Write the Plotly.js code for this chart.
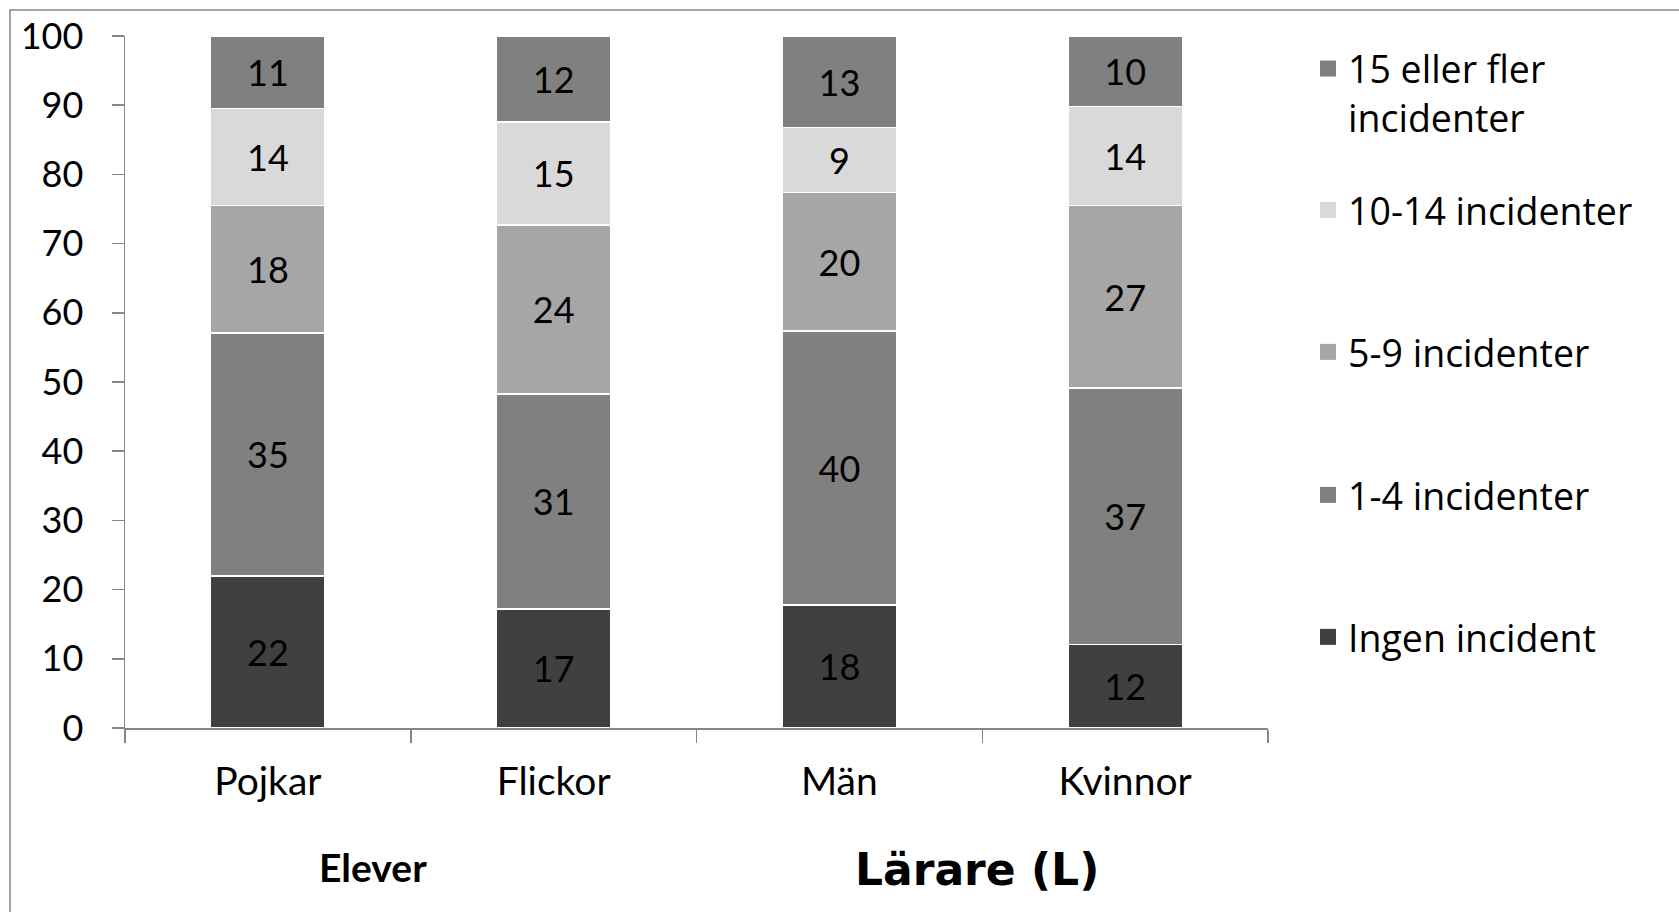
<!DOCTYPE html>
<html>
<head>
<meta charset="utf-8">
<script src="https://cdn.plot.ly/plotly-3.0.1.min.js"></script>
<style>html,body{margin:0;padding:0;background:#fff;}#chart{width:1679px;height:912px;}</style>
</head>
<body>
<div id="chart"></div>
<script>
// Categories
const categories = ['Pojkar', 'Flickor', 'Män', 'Kvinnor'];
// Series (bottom to top)
const seriesNames = ['Ingen incident', '1-4 incidenter', '5-9 incidenter', '10-14 incidenter', '15 eller fler<br>incidenter'];
const ingen   = [22.0, 17.2, 17.8, 12.1];
const inc1_4  = [35.1, 31.1, 39.6, 37.0];
const inc5_9  = [18.4, 24.4, 20.0, 26.4];
const inc10_14 = [14.0, 14.9, 9.4, 14.3];
const inc15   = [10.5, 12.4, 13.2, 10.2];
// Printed labels
const lblIngen = [22, 17, 18, 12];
const lbl1_4   = [35, 31, 40, 37];
const lbl5_9   = [18, 24, 20, 27];
const lbl10_14 = [14, 15, 9, 14];
const lbl15    = [11, 12, 13, 10];
const groupLabels = ['Elever', 'Lärare (L)'];
const yTicks = [0, 10, 20, 30, 40, 50, 60, 70, 80, 90, 100];

const colors = ['#404040', '#808080', '#a6a6a6', '#d9d9d9', '#808080'];
const values = [ingen, inc1_4, inc5_9, inc10_14, inc15];
const labels = [lblIngen, lbl1_4, lbl5_9, lbl10_14, lbl15];

const W = 1679, H = 912;
const L = 125, R = 1268, T = 36, B = 728;
const px2x = p => (p - L) / (R - L);
const px2y = p => (B - p) / (B - T);

const traces = [];
values.forEach((v, i) => {
  traces.push({
    type: 'bar', x: categories, y: v, text: labels[i].map(String),
    textposition: 'inside', insidetextanchor: 'middle',
    textfont: {family: 'Lato, sans-serif', size: 36, color: '#000'},
    marker: {color: colors[i], line: {color: '#ffffff', width: 1.5}},
    width: 0.4, showlegend: false, hoverinfo: 'skip'
  });
});
// legend entries (one legend per entry, positioned like the reference)
const legendCenters = [637, 495, 352, 210, 66];
const legendKeys = ['legend', 'legend2', 'legend3', 'legend4', 'legend5'];
values.forEach((v, i) => {
  traces.push({
    type: 'scatter', mode: 'markers', x: [null], y: [null],
    name: seriesNames[i], legend: legendKeys[i],
    marker: {symbol: 'square', size: 16, color: colors[i], line: {width: 0}},
    showlegend: true, hoverinfo: 'skip'
  });
});

const layout = {
  width: W, height: H,
  margin: {l: L, r: W - R, t: T, b: H - B},
  paper_bgcolor: '#fff', plot_bgcolor: '#fff',
  barmode: 'stack', bargap: 0.6,
  uniformtext: {mode: false},
  font: {family: 'Lato, sans-serif', size: 36, color: '#000'},
  xaxis: {
    type: 'category', categoryorder: 'array', categoryarray: categories,
    tickson: 'boundaries', ticks: 'outside', ticklen: 13, tickwidth: 1.5, tickcolor: '#868686',
    showline: true, linecolor: '#868686', linewidth: 1.5, showgrid: false, zeroline: false,
    tickfont: {family: 'Lato, sans-serif', size: 39, color: '#000'}, ticklabelstandoff: 19,
    fixedrange: true
  },
  yaxis: {
    range: [0, 100], tickvals: yTicks, ticks: 'outside', ticklen: 12, tickwidth: 1.5, tickcolor: '#868686',
    showline: true, linecolor: '#868686', linewidth: 1.5, showgrid: false, zeroline: false,
    tickfont: {family: 'Lato, sans-serif', size: 36, color: '#000'}, ticklabelstandoff: 21,
    fixedrange: true
  },
  shapes: [{
    type: 'rect', xref: 'paper', yref: 'paper',
    x0: px2x(10), x1: px2x(W + 50), y0: px2y(H + 50), y1: px2y(10),
    line: {color: '#868686', width: 1.5}, fillcolor: 'rgba(0,0,0,0)', layer: 'below'
  }],
  annotations: [
    {text: '<b>' + groupLabels[0] + '</b>', xref: 'paper', yref: 'paper', x: px2x(373), y: px2y(867),
     xanchor: 'center', yanchor: 'middle', showarrow: false,
     font: {family: 'Lato, sans-serif', size: 39, color: '#000'}},
    {text: '<b>' + groupLabels[1] + '</b>', xref: 'paper', yref: 'paper', x: px2x(977), y: px2y(869),
     xanchor: 'center', yanchor: 'middle', showarrow: false,
     font: {family: 'DejaVu Sans, sans-serif', size: 44, color: '#000'}}
  ]
};
legendKeys.forEach((k, i) => {
  const twoLine = i === 4;
  layout[k] = {
    xref: 'container', yref: 'container',
    x: (1333 - 25) / W,
    y: 1 - (twoLine ? (legendCenters[i] + 27) : legendCenters[i]) / H,
    xanchor: 'left', yanchor: 'middle', valign: 'top',
    bgcolor: 'rgba(0,0,0,0)', borderwidth: 0,
    font: {family: 'Open Sans, sans-serif', size: 37.5, color: '#000'},
    itemclick: false, itemdoubleclick: false
  };
});

Plotly.newPlot('chart', traces, layout, {staticPlot: true, displayModeBar: false});
</script>
</body>
</html>
